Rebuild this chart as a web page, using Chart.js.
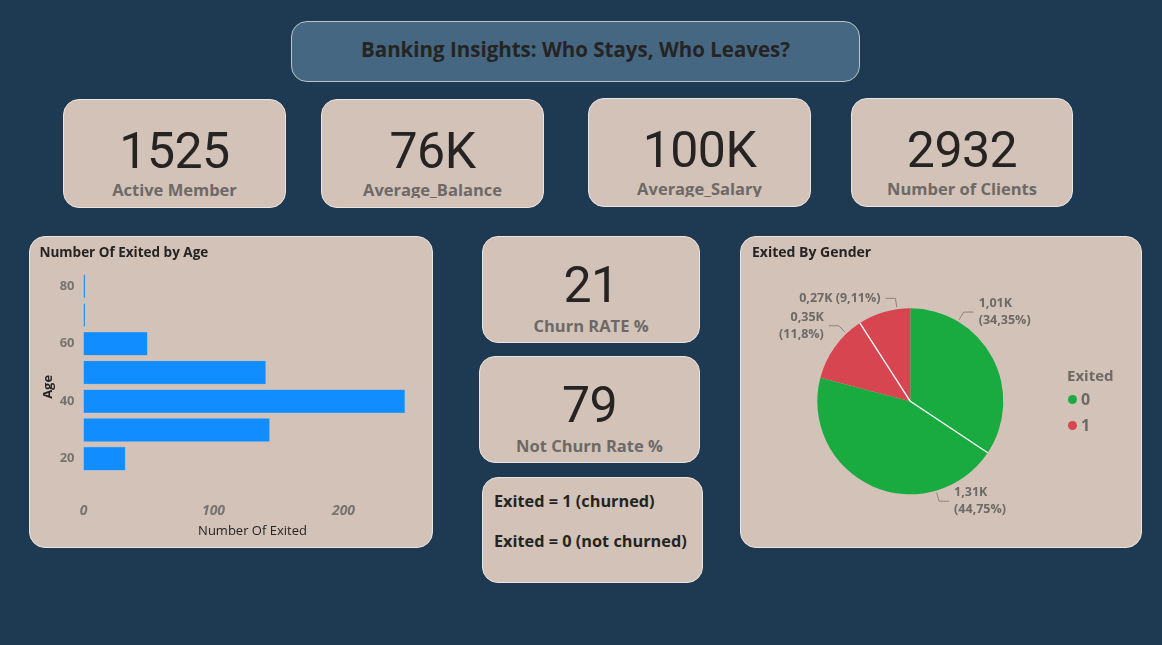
<!DOCTYPE html>
<html>
<head>
<meta charset="utf-8">
<script src="https://cdn.jsdelivr.net/npm/chart.js@4.4.1/dist/chart.umd.min.js"></script>
<style>
  html, body { margin:0; padding:0; }
  body { width:1162px; height:645px; background:#1d3a52; position:relative; overflow:hidden;
         font-family:"Open Sans","Noto Sans",sans-serif; }
  .box { position:absolute; box-sizing:border-box; background:#d2c2b8; border:1px solid #ece4de; border-radius:16px; overflow:hidden; }
  .title { position:absolute; left:291px; top:21px; width:569px; height:61px; box-sizing:border-box;
           background:#456782; border:1px solid #b9c3cb; border-radius:16px; }
  .title span { position:absolute; left:0; right:0; top:13px; text-align:center; line-height:28px;
           font-weight:700; font-size:20.5px; color:#252423; white-space:nowrap; }
  .val { position:absolute; left:0; right:0; text-align:center; font-family:Roboto, sans-serif; font-weight:400;
         font-size:50px; line-height:50px; color:#252423; letter-spacing:-0.5px; }
  .lab { position:absolute; left:0; right:0; text-align:center; font-weight:700; font-size:16.5px; line-height:22px;
         color:#6d6966; overflow:hidden; white-space:nowrap; }
  .note { position:absolute; left:11px; font-weight:700; font-size:16.3px; color:#252423; white-space:nowrap; }
  canvas { position:absolute; left:0; top:0; }
  .legend { position:absolute; left:1067px; top:365px; font-weight:700; color:#6d6966; }
  .legend .lt { font-size:15px; line-height:21px; }
  .legend .li { position:relative; font-size:16px; line-height:26px; padding-left:14px; }
  .legend .dot { position:absolute; left:1px; top:8.5px; width:9px; height:9px; border-radius:50%; }
</style>
</head>
<body>
<div class="title"><span id="title"></span></div>
<div id="cards"></div>

<div class="box" style="left:29px;top:236px;width:404px;height:312px;">
  <canvas id="barChart" width="402" height="311"></canvas>
</div>
<div class="box" style="left:740px;top:236px;width:402px;height:312px;">
  <canvas id="pieChart" width="402" height="311"></canvas>
</div>
<div class="legend" id="legend"></div>

<script>
// ---------- data ----------
const dashboardTitle = 'Banking Insights: Who Stays, Who Leaves?';
const kpiLabels = ['Active Member', 'Average_Balance', 'Average_Salary', 'Number of Clients'];
const kpiValues = ['1525', '76K', '100K', '2932'];
const rateLabels = ['Churn RATE %', 'Not Churn Rate %'];
const rateValues = ['21', '79'];
const noteLines = ['Exited = 1 (churned)', 'Exited = 0 (not churned)'];

const ageBins = [20, 30, 40, 50, 60, 70, 80];
const exitedByAge = [32, 143, 247, 140, 49, 1, 1];
const ageTicks = [20, 40, 60, 80];
const exitedTicks = [0, 100, 200];

const exitedLabels = ['0', '1'];
const exitedColors = ['#1aab40', '#d64550'];
const pieGender = ['Female', 'Male', 'Female', 'Male'];
const pieExited = [0, 0, 1, 1];
const pieCounts = [1007, 1312, 346, 267];

// ---------- html cards ----------
document.getElementById('title').textContent = dashboardTitle;
const cardsEl = document.getElementById('cards');
function makeCard(left, top, w, h, value, label, valTop, labTop, labH) {
  const d = document.createElement('div');
  d.className = 'box';
  d.style.cssText = `left:${left}px;top:${top}px;width:${w}px;height:${h}px;`;
  const v = document.createElement('div'); v.className = 'val'; v.style.top = valTop + 'px'; v.textContent = value;
  const l = document.createElement('div'); l.className = 'lab'; l.style.top = labTop + 'px'; l.style.height = labH + 'px'; l.textContent = label;
  d.appendChild(v); d.appendChild(l); cardsEl.appendChild(d);
}
const topCardPos = [[63, 99, 223], [321, 99, 223], [588, 98, 223], [851, 98, 222]];
kpiLabels.forEach((lab, i) => {
  const [x, y, w] = topCardPos[i];
  makeCard(x, y, w, 109, kpiValues[i], lab, 26, 78.5, 19.5);
});
const rateCardPos = [[482, 236, 218], [479, 356, 221]];
rateLabels.forEach((lab, i) => {
  const [x, y, w] = rateCardPos[i];
  makeCard(x, y, w, 107, rateValues[i], lab, 23, 78, 22);
});
(function () {
  const d = document.createElement('div');
  d.className = 'box';
  d.style.cssText = 'left:482px;top:477px;width:221px;height:106px;';
  noteLines.forEach((t, i) => {
    const n = document.createElement('div'); n.className = 'note';
    n.style.top = (12 + i * 40) + 'px'; n.textContent = t; d.appendChild(n);
  });
  cardsEl.appendChild(d);
})();

// legend
const legEl = document.getElementById('legend');
legEl.innerHTML = '<div class="lt">Exited</div>' + exitedLabels.map((l, i) =>
  `<div class="li"><span class="dot" style="background:${exitedColors[i]}"></span>${l}</div>`).join('');

// ---------- charts ----------
const SANS = '"Open Sans","Noto Sans",sans-serif';
Chart.defaults.font.family = SANS;

new Chart(document.getElementById('barChart'), {
  type: 'bar',
  data: {
    labels: ageBins,
    datasets: [{ label: 'Number Of Exited', data: exitedByAge, backgroundColor: '#118dff',
                 borderColor: '#4aa6f5', borderWidth: 0.6, barThickness: 23 }]
  },
  options: {
    indexAxis: 'y', responsive: false, animation: false,
    layout: { padding: { left: 9.5, right: 10.5, top: 0, bottom: 0 } },
    plugins: {
      legend: { display: false }, tooltip: { enabled: false },
      title: { display: true, text: 'Number Of Exited by Age', align: 'start', color: '#252423',
               font: { size: 13.5, weight: 'bold' }, padding: { top: 7.9, bottom: 10.8 } }
    },
    scales: {
      y: {
        type: 'linear', min: 5, max: 85, offset: false,
        afterBuildTicks: s => { s.ticks = ageTicks.map(v => ({ value: v })); },
        afterFit: s => { s.width = 44; },
        grid: { display: false, drawTicks: false }, border: { display: false },
        ticks: { color: '#777370', padding: 9, font: { size: 13, weight: 'bold' } },
        title: { display: true, text: 'Age', color: '#252423', font: { size: 13, weight: 'bold' }, padding: { top: 1, bottom: 0 } }
      },
      x: {
        type: 'linear', min: 0, max: 260,
        afterBuildTicks: s => { s.ticks = exitedTicks.map(v => ({ value: v })); },
        afterFit: s => { s.height = 46.2; },
        grid: { display: false, drawTicks: false }, border: { display: false },
        ticks: { color: '#777370', padding: 1, font: { size: 14, weight: 'bold', style: 'italic' } },
        title: { display: true, text: 'Number Of Exited', color: '#252423', font: { size: 13 }, padding: { top: 0, bottom: 9.2 } }
      }
    }
  }
});

const pieLabelPlugin = {
  id: 'pieLabels',
  afterDatasetsDraw(chart, args, opts) {
    const ctx = chart.ctx;
    const meta = chart.getDatasetMeta(0);
    const data = chart.data.datasets[0].data;
    const total = data.reduce((a, b) => a + b, 0);
    ctx.save();
    // white separators between slices of the same Exited group
    meta.data.forEach((arc, i) => {
      const n = (i + 1) % data.length;
      if (pieExited[i] !== pieExited[n]) return;
      const p = arc.getProps(['x', 'y', 'endAngle', 'outerRadius'], true);
      ctx.strokeStyle = '#ffffff'; ctx.lineWidth = 1.3;
      ctx.beginPath(); ctx.moveTo(p.x, p.y);
      ctx.lineTo(p.x + Math.cos(p.endAngle) * p.outerRadius, p.y + Math.sin(p.endAngle) * p.outerRadius);
      ctx.stroke();
    });
    // data labels with leader lines
    ctx.font = 'bold 12.5px ' + SANS;
    ctx.textBaseline = 'middle';
    meta.data.forEach((arc, i) => {
      const p = arc.getProps(['x', 'y', 'startAngle', 'endAngle', 'outerRadius'], true);
      const a = p.startAngle + (p.endAngle - p.startAngle) * opts.anchor[i];
      const c = Math.cos(a), s = Math.sin(a);
      const r1 = p.outerRadius + 2, r2 = p.outerRadius + 11;
      const x1 = p.x + c * r1, y1 = p.y + s * r1;
      const x2 = p.x + c * r2, y2 = p.y + s * r2;
      const right = c >= 0;
      const x3 = x2 + (right ? 10 : -10);
      ctx.strokeStyle = '#8c8580'; ctx.lineWidth = 1;
      ctx.beginPath(); ctx.moveTo(x1, y1); ctx.lineTo(x2, y2); ctx.lineTo(x3, y2); ctx.stroke();
      const v = data[i];
      const k = (v / 1000).toFixed(2).replace('.', ',') + 'K';
      const pct = '(' + String(Number((v / total * 100).toFixed(2))).replace('.', ',') + '%)';
      ctx.fillStyle = '#6d6966';
      ctx.textAlign = right ? 'left' : 'right';
      const tx = x3 + (right ? 5 : -5);
      if (Math.abs(c) < 0.2) {
        ctx.fillText(k + ' ' + pct, tx, y2);
      } else {
        ctx.fillText(k, tx, y2 - 8.5);
        ctx.fillText(pct, tx, y2 + 8.5);
      }
    });
    ctx.restore();
  }
};

new Chart(document.getElementById('pieChart'), {
  type: 'pie',
  data: {
    labels: pieGender.map((g, i) => g + ' / Exited ' + exitedLabels[pieExited[i]]),
    datasets: [{ data: pieCounts, backgroundColor: pieExited.map(e => exitedColors[e]), borderWidth: 0 }]
  },
  options: {
    responsive: false, animation: false,
    layout: { padding: { left: 11, right: 74.4, top: 0, bottom: 53.7 } },
    plugins: {
      legend: { display: false }, tooltip: { enabled: false },
      title: { display: true, text: 'Exited By Gender', align: 'start', color: '#252423',
               font: { size: 14, weight: 'bold' }, padding: { top: 7.6, bottom: 46.9 } },
      pieLabels: { anchor: [0.25, 0.25, 0.75, 0.75] }
    }
  },
  plugins: [pieLabelPlugin]
});
</script>
</body>
</html>
